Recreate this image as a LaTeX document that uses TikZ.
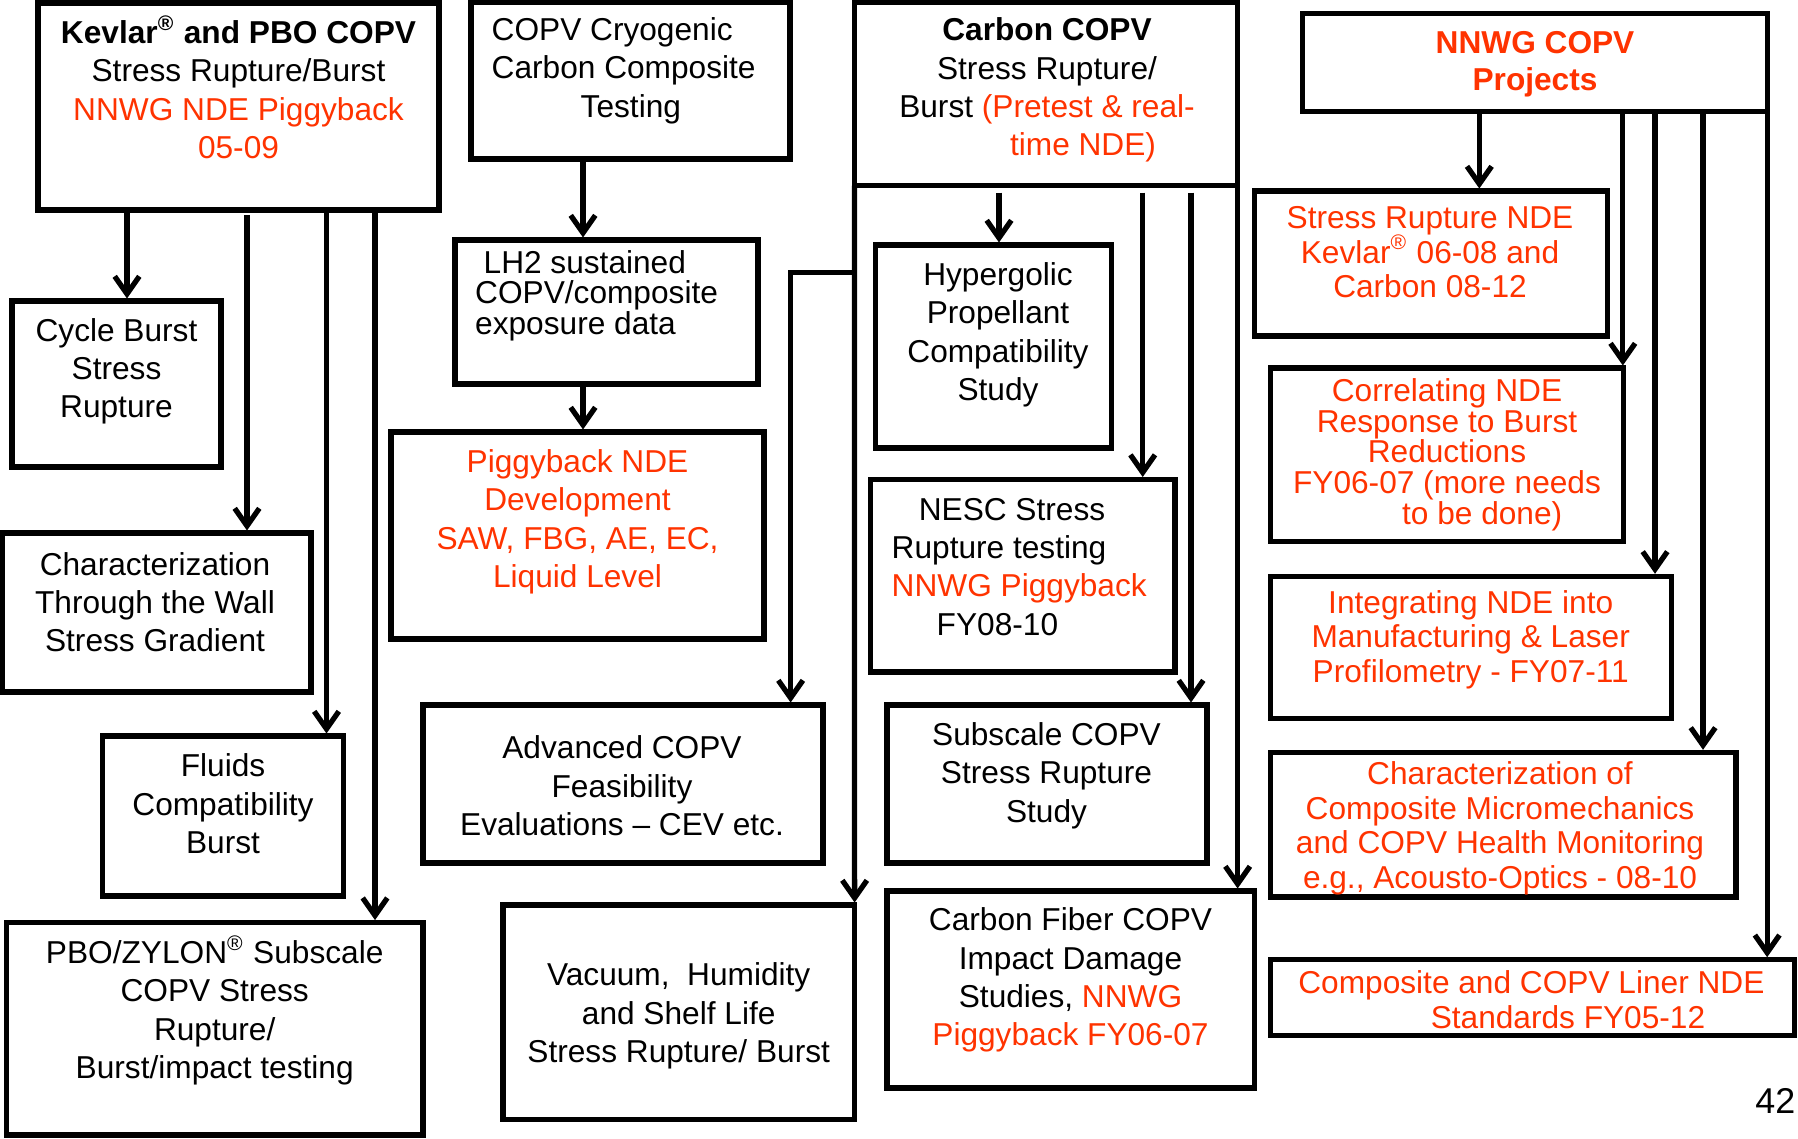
\documentclass[tikz,border=0pt]{standalone}
\usepackage{fontspec}
\setmainfont{Liberation Sans}
\usetikzlibrary{arrows.meta}

\definecolor{nnwgred}{RGB}{255,51,0}
\newcommand{\regmark}{\textsuperscript{\smash{\textregistered}}}
\newcommand{\rd}[1]{\textcolor{nnwgred}{#1}}

\tikzset{
  box/.style={draw, line width=1.5pt, outer sep=0pt, inner sep=0pt},
  txt/.style={inner sep=0pt, anchor=north, align=center, font={\fontsize{9}{10.9}\selectfont}},
  tight/.style={font={\fontsize{9}{8.7}\selectfont\lineskiplimit=-5pt}},
  mid/.style={font={\fontsize{9}{9.8}\selectfont}},
  arr/.style={line width=1.5pt, -{Straight Barb[length=5pt,width=7pt]}, shorten >=0.7pt},
}

\begin{document}
\begin{tikzpicture}[x=0.01cm, y=-0.01cm]
\useasboundingbox (0,0) rectangle (1798,1138);

% Kevlar / PBO column
\node[box, minimum width=4.01cm, minimum height=2.07cm] (kevlar) at (238.5,106.5) {};
\node[txt] (kevlar-t) at (238.5,20) {\textbf{Kevlar\regmark{} and PBO COPV}\\Stress Rupture/Burst\\\rd{NNWG NDE Piggyback}\\\rd{05-09}};
\node[box, minimum width=2.09cm, minimum height=1.66cm] (cycle) at (116.5,384) {};
\node[txt] (cycle-t) at (116.5,317.6) {Cycle Burst\\Stress\\Rupture};
\node[box, minimum width=3.09cm, minimum height=1.59cm] (charw) at (156.5,612.5) {};
\node[txt] (charw-t) at (155,551.4) {Characterization\\Through the Wall\\Stress Gradient};
\node[box, minimum width=2.407cm, minimum height=1.598cm] (fluids) at (223,815.9) {};
\node[txt] (fluids-t) at (223,753) {Fluids\\Compatibility\\Burst};
\node[box, minimum width=4.165cm, minimum height=2.124cm] (pbo) at (214.75,1028.8) {};
\node[txt] (pbo-t) at (214.7,939.8) {PBO/ZYLON\regmark{} Subscale\\COPV Stress\\Rupture/\\Burst/impact testing};

% cryogenic column
\node[box, minimum width=3.19cm, minimum height=1.57cm] (cryo) at (630.5,80.5) {};
\node[txt, anchor=north west, align=left] (cryo-t) at (491,17) {COPV Cryogenic\\Carbon Composite\\\hspace*{25.3pt}Testing};
\node[box, minimum width=3.03cm, minimum height=1.44cm] (lh2) at (606.5,312) {};
\node[txt, tight, anchor=north west, align=left] (lh2-t) at (474.5,249.5) {\hspace*{2.4pt}LH2 sustained\\COPV/composite\\exposure data};
\node[box, minimum width=3.73cm, minimum height=2.07cm] (pig) at (577.5,535.5) {};
\node[txt, text=nnwgred] (pig-t) at (577.5,449) {Piggyback NDE\\Development\\SAW, FBG, AE, EC,\\Liquid Level};
\node[box, minimum width=4cm, minimum height=1.58cm] (adv) at (623,784) {};
\node[txt] (adv-t) at (622,735) {Advanced COPV\\Feasibility\\Evaluations -- CEV etc.};
\node[box, minimum width=3.515cm, minimum height=2.147cm] (vac) at (678.75,1012.35) {};
\node[txt] (vac-t) at (678.7,962) {Vacuum,\ \ Humidity\\and Shelf Life\\Stress Rupture/ Burst};

% carbon column
\node[box, minimum width=3.83cm, minimum height=1.836cm] (carbon) at (1046,93.8) {};
\node[txt] (carbon-t) at (1047,17.2) {\textbf{Carbon COPV}\\Stress Rupture/\\Burst \rd{(Pretest \& real-}\\\hspace*{20.5pt}\rd{time NDE)}};
\node[box, minimum width=2.362cm, minimum height=2.028cm] (hyper) at (993.6,346.4) {};
\node[txt] (hyper-t) at (998,262) {Hypergolic\\Propellant\\Compatibility\\Study};
\node[box, minimum width=3.044cm, minimum height=1.925cm] (nesc) at (1022.8,575.75) {};
\node[txt, anchor=north west, align=left] (nesc-t) at (891,497.5) {\hspace*{7.7pt}NESC Stress\\Rupture testing\\\rd{NNWG Piggyback}\\\hspace*{12.8pt}FY08-10};
\node[box, minimum width=3.2cm, minimum height=1.58cm] (subs) at (1047,784) {};
\node[txt] (subs-t) at (1046.5,721.7) {Subscale COPV\\Stress Rupture\\Study};
\node[box, minimum width=3.676cm, minimum height=1.97cm] (cfib) at (1070.8,989.5) {};
\node[txt] (cfib-t) at (1070.5,907) {Carbon Fiber COPV\\Impact Damage\\Studies, \rd{NNWG}\\\rd{Piggyback FY06-07}};

% NNWG projects column
\node[box, minimum width=4.645cm, minimum height=0.983cm] (nnwg) at (1534.75,62.55) {};
\node[txt, text=nnwgred, font={\fontsize{9}{10.64}\selectfont\bfseries}] (nnwg-t) at (1535,30.6) {NNWG COPV\\Projects};
\node[box, minimum width=3.529cm, minimum height=1.45cm] (srnde) at (1431,263.5) {};
\node[txt, mid, text=nnwgred] (srnde-t) at (1430,205.9) {Stress Rupture NDE\\Kevlar\regmark{} 06-08 and\\Carbon 08-12};
\node[box, minimum width=3.529cm, minimum height=1.735cm] (corr) at (1447.15,454.75) {};
\node[txt, tight, text=nnwgred] (corr-t) at (1447,378) {Correlating NDE\\Response to Burst\\Reductions\\FY06-07 (more needs\\\hspace*{20pt}to be done)};
\node[box, minimum width=4.007cm, minimum height=1.423cm] (integ) at (1471.05,647.45) {};
\node[txt, mid, text=nnwgred] (integ-t) at (1470.7,589.6) {Integrating NDE into\\Manufacturing \& Laser\\Profilometry - FY07-11};
\node[box, minimum width=4.65cm, minimum height=1.447cm] (charo) at (1503.2,824.65) {};
\node[txt, mid, text=nnwgred] (charo-t) at (1500,761) {Characterization of\\Composite Micromechanics\\and COPV Health Monitoring\\e.g., Acousto-Optics - 08-10};
\node[box, minimum width=5.233cm, minimum height=0.758cm] (liner) at (1532.35,997.6) {};
\node[txt, text=nnwgred, font={\fontsize{9}{10.07}\selectfont}] (liner-t) at (1531.4,969.6) {Composite and COPV Liner NDE\\\hspace*{20.8pt}Standards FY05-12};

\node[txt, anchor=base east, font={\fontsize{10.2}{12}\selectfont}] (pagenum) at (1796,1113) {42};

% connectors
\foreach \xx/\dst in {127/cycle, 326.5/fluids, 375/pbo}
  \draw[arr] (kevlar.south -| \xx,0) -- (\dst.north -| \xx,0);
\draw[arr, shorten <=1.5pt] (kevlar.south -| 247,0) -- (charw.north -| 247,0);

\draw[arr] (cryo.south -| 583,0) -- (lh2.north -| 583,0);
\draw[arr] (lh2.south -| 583,0) -- (pig.north -| 583,0);

\draw[arr] (carbon.south west) -- (vac.north east);
\draw[arr] (carbon.west |- 0,272.5) -| (adv.north -| 790.6,0);
\draw[arr] (carbon.south east) -- (cfib.north -| carbon.south east);
\foreach \xx/\dst in {999/hyper, 1142.7/nesc, 1191/subs}
  \draw[arr, shorten <=2pt] (carbon.south -| \xx,0) -- (\dst.north -| \xx,0);

\foreach \xx/\dst in {1479.3/srnde, 1622.8/corr, 1655/integ, 1703/charo}
  \draw[arr] (nnwg.south -| \xx,0) -- (\dst.north -| \xx,0);
\draw[arr] (nnwg.south east) -- (liner.north -| nnwg.south east);
\end{tikzpicture}
\end{document}
